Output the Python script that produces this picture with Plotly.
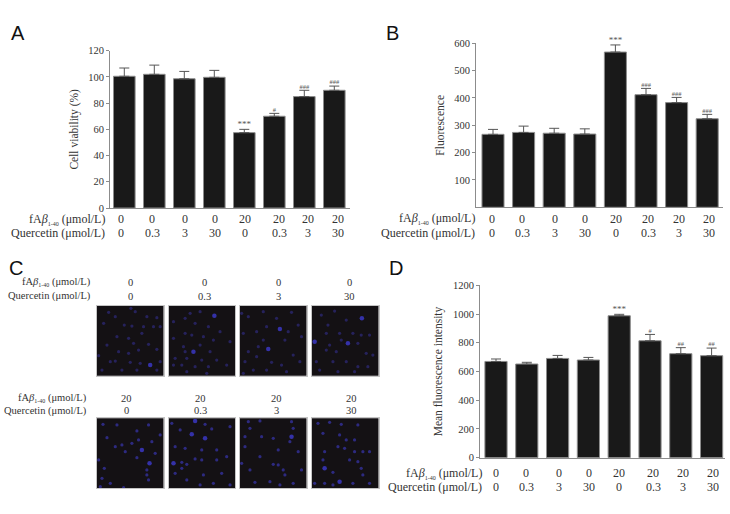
import plotly.graph_objects as go

W, H = 730, 514
SERIF = 'Liberation Serif'
SANS = 'Liberation Sans'
TEXT = '#333333'
BAR = '#191919'
EDGE = '#8c8c8c'

FAB = ['0', '0', '0', '0', '20', '20', '20', '20']
QUERCETIN = ['0', '0.3', '3', '30', '0', '0.3', '3', '30']
FAB_LABEL = 'fA<i>β</i><sub><span style="font-size:6px">1-40</span></sub> (μmol/L)'
QUER_LABEL = 'Quercetin (μmol/L)'

viability = [100.5, 102, 98.6, 99.7, 57.5, 70, 85, 89.8]
viability_top = [106.8, 109, 104.2, 105, 60, 72.2, 89.8, 93]
viability_marks = ['', '', '', '', '***', '#', '###', '###']

fluorescence = [267, 274, 271, 268, 568, 412, 383, 324]
fluorescence_top = [285, 297, 289, 287, 594, 435, 402, 340]
fluorescence_marks = ['', '', '', '', '***', '###', '###', '###']

intensity = [670, 652, 691, 680, 988, 814, 724, 710]
intensity_top = [687, 664, 712, 698, 998, 858, 766, 763]
intensity_marks = ['', '', '', '', '***', '#', '##', '##']

top_0_0 = [(325,172),(405,170),(345,185),(392,160),(440,185),(470,188),(310,205),(372,210),(395,213),(430,215),(460,215),(480,215),(350,245),(385,250),(425,235),(400,265),(320,270),(445,268),(470,283),(415,285),(355,290),(385,295),(295,302),(330,320),(345,318),(390,322),(420,325),(480,320),(365,345),(305,345),(410,345),(470,345)]
top_0_0_bright = [(450,330)]
top_0_03 = [(555,190),(570,175),(600,170),(520,200),(585,205),(625,215),(660,230),(555,235),(575,240),(610,245),(640,255),(520,250),(550,275),(600,270),(630,290),(555,290),(525,310),(560,310),(605,315),(650,315),(520,330),(545,330),(585,335),(625,335),(680,330),(560,350),(620,355),(690,260)]
top_0_03_bright = [(643,182),(580,290)]
top_0_3 = [(725,175),(745,185),(790,170),(830,190),(875,172),(865,230),(895,210),(730,235),(770,230),(800,215),(790,255),(855,255),(905,245),(745,290),(775,275),(735,320),(770,305),(815,322),(845,330),(880,300),(900,320),(760,345),(800,345),(860,350),(730,355)]
top_0_3_bright = [(840,222),(805,282)]
top_0_30 = [(965,180),(1005,168),(1040,195),(985,210),(1020,235),(980,235),(1060,235),(1085,240),(1025,255),(990,270),(1075,265),(1110,240),(980,285),(1010,290),(1100,295),(950,320),(1000,320),(1040,320),(1075,335),(1065,350),(1105,335),(960,345),(1120,300),(1015,350)]
top_0_30_bright = [(1087,190),(1045,265),(945,260)]

bot_20_0 = [(308,118),(350,120),(410,138),(445,120),(320,158),(415,165),(345,185),(365,180),(395,175),(455,170),(375,200),(465,205),(410,218),(295,225),(312,250),(480,150),(440,255),(305,280),(440,270),(445,285),(300,305),(330,295),(370,308)]
bot_20_0_bright = [(425,195),(448,235)]
bot_20_03 = [(515,115),(615,118),(540,135),(635,132),(690,125),(525,185),(555,190),(605,195),(650,195),(545,232),(560,238),(585,222),(605,225),(650,225),(680,215),(525,265),(610,270),(665,265),(560,285),(600,300),(640,295),(690,300),(545,250)]
bot_20_03_bright = [(585,108),(575,148),(615,160),(520,235)]
bot_20_3 = [(745,110),(750,130),(780,108),(875,110),(880,130),(735,155),(785,155),(820,160),(870,170),(735,185),(780,215),(835,195),(895,200),(905,255),(725,235),(750,255),(820,238),(835,240),(850,255),(855,270),(765,292),(810,290),(840,300),(880,295)]
bot_20_3_bright = [(875,155)]
bot_20_30 = [(955,115),(990,112),(1025,118),(1075,120),(970,145),(1020,150),(1040,165),(1065,165),(1015,185),(1035,190),(1090,200),(1065,200),(975,200),(1075,230),(1110,200),(1050,225),(970,225),(1000,262),(1085,250),(945,295),(975,295),(1060,295),(1090,270),(1110,295),(1000,300)]
bot_20_30_bright = [(975,250),(1020,290)]


def px_x(x):
    return x / W


def px_y(y):
    return 1 - y / H


fig = go.Figure()
annotations = []
shapes = []
layout = {}


def add_text(x, y, text, size=12, anchor='center', family=SERIF, color=TEXT):
    annotations.append(dict(
        x=px_x(x), y=px_y(y), xref='paper', yref='paper', text=text,
        showarrow=False, xanchor=anchor, yanchor='middle',
        font=dict(family=family, size=size, color=color),
    ))


def bar_panel(n, values, tops, marks, ymax, dtick, title, box, first, step, label_xs, rows, label_right, hide_zero=False):
    x0, x1, y0, y1 = box
    xname, yname = f'x{n}', f'y{n}'
    err = [t - v for t, v in zip(tops, values)]
    idx = list(range(len(values)))
    fig.add_trace(go.Bar(
        x=idx, y=values, width=0.72, xaxis=xname, yaxis=yname, showlegend=False,
        marker=dict(color=BAR, line=dict(color=EDGE, width=1)),
        error_y=dict(type='data', symmetric=False, array=err, arrayminus=[0] * len(err),
                     color='#555555', thickness=1, width=5),
    ))
    for size, sym in ((9, '*'), (6.5, '#')):
        keep = [i for i in idx if marks[i].startswith(sym)]
        fig.add_trace(go.Scatter(
            x=keep, y=[tops[i] for i in keep], text=[marks[i] for i in keep],
            mode='text', textposition='top center', xaxis=xname, yaxis=yname, showlegend=False,
            textfont=dict(family=SERIF, size=size, color='#555555'),
            cliponaxis=False,
        ))
    layout[f'xaxis{n}'] = dict(
        domain=[px_x(x0), px_x(x1)], range=[(x0 - first) / step, (x1 - first) / step],
        anchor=yname, showticklabels=False, ticks='', showgrid=False, zeroline=False,
        showline=True, linecolor=EDGE, linewidth=1,
    )
    tickvals = list(range(dtick if hide_zero else 0, ymax + 1, dtick))
    layout[f'yaxis{n}'] = dict(
        domain=[px_y(y1), px_y(y0)], range=[0, ymax], anchor=xname,
        tickvals=tickvals, ticks='outside', ticklen=3, tickcolor=EDGE, showgrid=False, zeroline=False,
        showline=True, linecolor=EDGE, linewidth=1,
        tickfont=dict(family=SERIF, size=10.5, color=TEXT),
        title=dict(text=title, standoff=7, font=dict(family=SERIF, size=11.5, color=TEXT)),
    )
    for x, a, b in zip(label_xs, FAB, QUERCETIN):
        add_text(x, rows[0], a)
        add_text(x, rows[1], b)
    add_text(label_right, rows[0], FAB_LABEL, anchor='right')
    add_text(label_right, rows[1], QUER_LABEL, anchor='right')


bar_panel(2, viability, viability_top, viability_marks, 120, 20, 'Cell viability (%)',
          (110, 350, 50.7, 208), 124.3, 30,
          [121, 152, 185, 215, 245, 279, 308, 338], (219, 233), 107)
bar_panel(3, fluorescence, fluorescence_top, fluorescence_marks, 600, 100, 'Fluorescence',
          (476, 723, 43.3, 207.3), 493, 30.6,
          [492, 522, 555, 585, 616, 648, 679, 709], (218.7, 232.7), 477, hide_zero=True)
bar_panel(4, intensity, intensity_top, intensity_marks, 1200, 200, 'Mean fluorescence intensity',
          (480, 725, 285.3, 457.7), 496, 30.8,
          [496, 526, 559, 589, 619, 653, 683, 713], (473, 486.7), 484)

micrographs = [
    (top_0_0, top_0_0_bright, 290, 152, 97, 305.7),
    (top_0_03, top_0_03_bright, 505, 152, 168.5, 305.7),
    (top_0_3, top_0_3_bright, 720, 152, 240, 305.7),
    (top_0_30, top_0_30_bright, 937, 152, 312, 305.7),
    (bot_20_0, bot_20_0_bright, 290, 100, 97, 418.3),
    (bot_20_03, bot_20_03_bright, 505, 100, 168.5, 418.3),
    (bot_20_3, bot_20_3_bright, 720, 100, 240, 418.3),
    (bot_20_30, bot_20_30_bright, 937, 100, 312, 418.3),
]

for n, (dim, bright, cx, cy, left, top) in enumerate(micrographs, start=5):
    xname, yname = f'x{n}', f'y{n}'
    dim_col = '#26225c' if n < 9 else '#2d2a80'
    fig.add_trace(go.Scatter(
        x=[p[0] for p in dim], y=[p[1] for p in dim], mode='markers',
        xaxis=xname, yaxis=yname, showlegend=False,
        marker=dict(color=dim_col, size=3.2, line=dict(width=0)),
    ))
    fig.add_trace(go.Scatter(
        x=[p[0] for p in bright], y=[p[1] for p in bright], mode='markers',
        xaxis=xname, yaxis=yname, showlegend=False,
        marker=dict(color='#3431a8', size=4.5, line=dict(width=0)),
    ))
    layout[f'xaxis{n}'] = dict(
        domain=[px_x(left), px_x(left + 66.5)], range=[cx, cx + 200], anchor=yname,
        showticklabels=False, ticks='', showgrid=False, zeroline=False,
        showline=True, mirror=True, linecolor='#c4c4c4', linewidth=1,
    )
    layout[f'yaxis{n}'] = dict(
        domain=[px_y(top + 70), px_y(top)], range=[cy + 210, cy], anchor=xname,
        showticklabels=False, ticks='', showgrid=False, zeroline=False,
        showline=True, mirror=True, linecolor='#c4c4c4', linewidth=1,
    )
    shapes.append(dict(type='rect', xref=f'{xname} domain', yref=f'{yname} domain',
                       x0=0, x1=1, y0=0, y1=1, fillcolor='#141114', line_width=0, layer='below'))

for x, a, b in zip([130, 204, 278, 349], FAB[:4], QUERCETIN[:4]):
    add_text(x, 282, a, size=10.5)
    add_text(x, 296, b, size=10.5)
add_text(93, 282, FAB_LABEL, size=10.5, anchor='right')
add_text(93, 296, QUER_LABEL, size=10.5, anchor='right')
for x, a, b in zip([126, 200, 276, 351], FAB[4:], QUERCETIN[4:]):
    add_text(x, 398, a, size=10.5)
    add_text(x, 410.5, b, size=10.5)
add_text(89, 398, FAB_LABEL, size=10.5, anchor='right')
add_text(89, 410.5, QUER_LABEL, size=10.5, anchor='right')

for letter, x, y in (('A', 18, 33), ('B', 393, 33), ('C', 16, 268), ('D', 396, 268)):
    add_text(x, y, letter, size=20, family=SANS, color='#111111')

fig.update_layout(
    width=W, height=H, margin=dict(l=0, r=0, t=0, b=0, autoexpand=False),
    paper_bgcolor='white', plot_bgcolor='white',
    annotations=annotations, shapes=shapes, showlegend=False,
    **layout,
)
# the page's default body margin would push the plot 8px in and clip it
fig.write_html("out.html", config={'displayModeBar': False},
               post_script="document.body.style.margin='0';document.body.style.overflow='hidden';")
